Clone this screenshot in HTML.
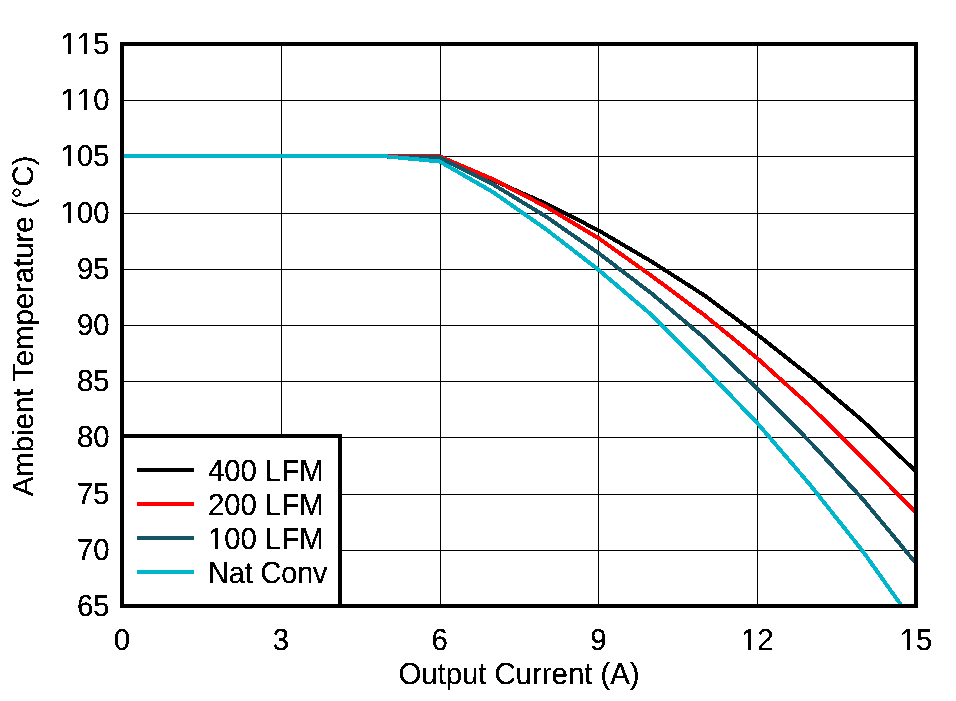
<!DOCTYPE html>
<html><head><meta charset="utf-8"><style>
html,body{margin:0;padding:0;background:#fff;width:956px;height:701px;overflow:hidden}
svg{display:block}
.t{filter:url(#bin);font-family:"Liberation Sans",sans-serif;font-size:29.33px;fill:#000;text-rendering:geometricPrecision;font-kerning:none}
</style></head><body>
<svg width="956" height="701" viewBox="0 0 956 701">
<defs><filter id="bin" x="-5%" y="-5%" width="110%" height="110%" color-interpolation-filters="sRGB"><feComponentTransfer><feFuncA type="discrete" tableValues="0 1 1"/></feComponentTransfer></filter><clipPath id="pc"><rect x="122" y="44" width="794" height="562"/></clipPath></defs>
<rect x="0" y="0" width="956" height="701" fill="#fff"/>
<rect x="122" y="100" width="794" height="1" fill="#000"/>
<rect x="122" y="156" width="794" height="1" fill="#000"/>
<rect x="122" y="213" width="794" height="1" fill="#000"/>
<rect x="122" y="269" width="794" height="1" fill="#000"/>
<rect x="122" y="325" width="794" height="1" fill="#000"/>
<rect x="122" y="381" width="794" height="1" fill="#000"/>
<rect x="122" y="437" width="794" height="1" fill="#000"/>
<rect x="122" y="494" width="794" height="1" fill="#000"/>
<rect x="122" y="550" width="794" height="1" fill="#000"/>
<rect x="281" y="44" width="1" height="562" fill="#000"/>
<rect x="440" y="44" width="1" height="562" fill="#000"/>
<rect x="598" y="44" width="1" height="562" fill="#000"/>
<rect x="757" y="44" width="1" height="562" fill="#000"/>
<g clip-path="url(#pc)" fill="none" stroke-width="4" shape-rendering="crispEdges">
<polyline points="122.00,156.40 386.70,156.40 439.60,156.40 492.50,180.00 545.40,203.40 598.40,230.30 651.30,261.40 704.20,295.25 757.20,334.50 810.10,376.25 863.00,421.00 916.00,471.50" stroke="#000000"/>
<polyline points="122.00,156.40 386.70,156.40 439.60,156.40 492.50,179.00 545.40,206.40 598.40,238.10 651.30,275.65 704.20,315.00 757.20,358.20 810.10,406.00 863.00,458.45 916.00,512.80" stroke="#ff0000"/>
<polyline points="122.00,156.40 386.70,156.40 388.60,156.65 439.60,157.30 492.50,184.00 545.40,216.20 598.40,253.00 651.30,293.25 704.20,337.75 757.20,388.70 810.10,441.95 863.00,499.40 916.00,563.30" stroke="#135565"/>
<polyline points="122.00,156.40 386.70,156.40 439.60,161.50 492.50,191.80 545.40,228.80 598.40,269.70 651.30,314.75 704.20,368.00 757.20,422.95 810.10,484.80 863.00,551.50 916.00,626.00" stroke="#00b6cc"/>
</g>
<rect x="122" y="436" width="218" height="170" fill="#fff" stroke="#000" stroke-width="4"/>
<rect x="122" y="44" width="794" height="562" fill="none" stroke="#000" stroke-width="4"/>
<rect x="137" y="468" width="57" height="4" fill="#000000"/>
<rect x="137" y="502" width="57" height="4" fill="#ff0000"/>
<rect x="137" y="536" width="57" height="4" fill="#135565"/>
<rect x="137" y="570" width="57" height="4" fill="#00b6cc"/>
<text transform="translate(208,481) scale(1,1.035)" class="t">400 LFM</text>
<text transform="translate(208,515) scale(1,1.035)" class="t">200 LFM</text>
<text transform="translate(208,549) scale(1,1.035)" class="t">100 LFM</text>
<text transform="translate(208,583) scale(0.977,1.035)" class="t">Nat Conv</text>
<text transform="translate(109.5,54.0) scale(1,1.035)" class="t" text-anchor="end">115</text>
<text transform="translate(109.5,110.2) scale(1,1.035)" class="t" text-anchor="end">110</text>
<text transform="translate(109.5,166.4) scale(1,1.035)" class="t" text-anchor="end">105</text>
<text transform="translate(109.5,222.6) scale(1,1.035)" class="t" text-anchor="end">100</text>
<text transform="translate(109.5,278.8) scale(1,1.035)" class="t" text-anchor="end">95</text>
<text transform="translate(109.5,335.0) scale(1,1.035)" class="t" text-anchor="end">90</text>
<text transform="translate(109.5,391.2) scale(1,1.035)" class="t" text-anchor="end">85</text>
<text transform="translate(109.5,447.4) scale(1,1.035)" class="t" text-anchor="end">80</text>
<text transform="translate(109.5,503.6) scale(1,1.035)" class="t" text-anchor="end">75</text>
<text transform="translate(109.5,559.8) scale(1,1.035)" class="t" text-anchor="end">70</text>
<text transform="translate(109.5,616.0) scale(1,1.035)" class="t" text-anchor="end">65</text>
<text transform="translate(122.0,650) scale(1,1.035)" class="t" text-anchor="middle">0</text>
<text transform="translate(280.8,650) scale(1,1.035)" class="t" text-anchor="middle">3</text>
<text transform="translate(439.6,650) scale(1,1.035)" class="t" text-anchor="middle">6</text>
<text transform="translate(598.4,650) scale(1,1.035)" class="t" text-anchor="middle">9</text>
<text transform="translate(757.2,650) scale(1,1.035)" class="t" text-anchor="middle">12</text>
<text transform="translate(916.0,650) scale(1,1.035)" class="t" text-anchor="middle">15</text>
<text transform="translate(519,684) scale(1,1.035)" class="t" text-anchor="middle">Output Current (A)</text>
<text transform="translate(33,326) rotate(-90)" x="0" y="0" class="t" style="font-kerning:normal" text-anchor="middle">Ambient Temperature (°C)</text>
<g shape-rendering="crispEdges"><rect x="62" y="51" width="6" height="4" fill="#fff"/><rect x="71" y="51" width="5" height="4" fill="#fff"/><rect x="79" y="51" width="5" height="4" fill="#fff"/><rect x="87" y="51" width="5" height="4" fill="#fff"/><rect x="62" y="107" width="6" height="4" fill="#fff"/><rect x="71" y="107" width="5" height="4" fill="#fff"/><rect x="79" y="107" width="5" height="4" fill="#fff"/><rect x="87" y="107" width="5" height="4" fill="#fff"/><rect x="62" y="163" width="6" height="4" fill="#fff"/><rect x="71" y="163" width="5" height="4" fill="#fff"/><rect x="62" y="219" width="6" height="4" fill="#fff"/><rect x="71" y="219" width="5" height="4" fill="#fff"/><rect x="743" y="647" width="5" height="4" fill="#fff"/><rect x="751" y="647" width="5" height="4" fill="#fff"/><rect x="902" y="647" width="5" height="4" fill="#fff"/><rect x="910" y="647" width="5" height="4" fill="#fff"/><rect x="210" y="546" width="5" height="4" fill="#fff"/><rect x="218" y="546" width="5" height="4" fill="#fff"/></g>
</svg>
</body></html>
